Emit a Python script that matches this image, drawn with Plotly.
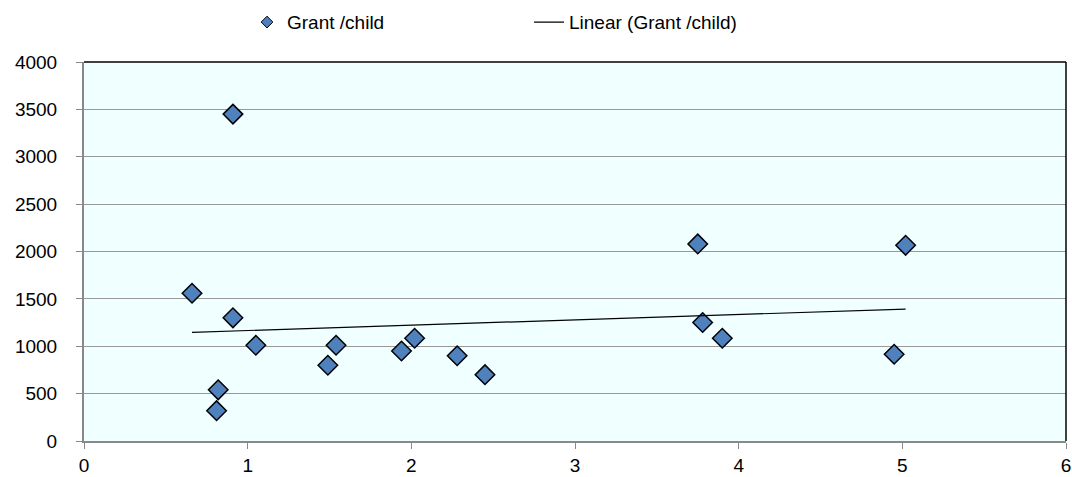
import numpy as np
import plotly.graph_objects as go

# Data
ratio = [0.66, 0.91, 0.91, 1.05, 0.82, 0.81, 1.54, 1.49, 1.94, 2.02, 2.28, 2.45,
         3.75, 3.78, 3.90, 5.02, 4.95]
grant = [1560, 3450, 1300, 1010, 540, 320, 1010, 800, 950, 1085, 900, 700,
         2080, 1250, 1085, 2065, 915]
x_ticks = [0, 1, 2, 3, 4, 5, 6]
y_ticks = [0, 500, 1000, 1500, 2000, 2500, 3000, 3500, 4000]

xa = np.array(ratio)
ya = np.array(grant)
slope, intercept = np.polyfit(xa, ya, 1)
tx = np.array([xa.min(), xa.max()])
ty = slope * tx + intercept

FONT = "Liberation Sans, Arial, sans-serif"
BLUE = "#4F81BD"

fig = go.Figure()
fig.add_trace(go.Scatter(
    x=ratio, y=grant, mode="markers", name="Grant /child", showlegend=False,
    legendgroup="g",
    marker=dict(symbol="diamond", size=15, color=BLUE,
                line=dict(color="#000000", width=1.5)),
))
# legend proxy with the smaller legend marker
fig.add_trace(go.Scatter(
    x=[None], y=[None], mode="markers", name="Grant /child", legendgroup="g",
    marker=dict(symbol="diamond", size=9, color=BLUE,
                line=dict(color="#000000", width=1)),
))
fig.add_trace(go.Scatter(
    x=tx, y=ty, mode="lines", name="Linear (Grant /child)",
    line=dict(color="#000000", width=1.2),
))

fig.update_layout(
    width=1072, height=477,
    margin=dict(l=84, r=6, t=62, b=36, autoexpand=False),
    paper_bgcolor="#FFFFFF",
    plot_bgcolor="#F0FFFF",
    font=dict(family=FONT, size=19, color="#000000"),
    showlegend=True,
    legend=dict(
        orientation="h", x=0.166, xanchor="left", y=1.105, yanchor="middle",
        font=dict(family=FONT, size=19), entrywidth=237, entrywidthmode="pixels",
        bgcolor="rgba(0,0,0,0)",
    ),
    xaxis=dict(
        range=[0, 6], tickvals=x_ticks, ticktext=[str(v) for v in x_ticks],
        showgrid=False, zeroline=False, automargin=False,
        showline=True, linecolor="#888888", linewidth=2,
        ticks="outside", ticklen=6, tickcolor="#888888", tickwidth=1,
        tickfont=dict(family=FONT, size=19), ticklabelstandoff=0,
    ),
    yaxis=dict(
        range=[0, 4000], tickvals=y_ticks, ticktext=[str(v) for v in y_ticks],
        showgrid=True, gridcolor="#999999", gridwidth=1, zeroline=False,
        automargin=False,
        showline=True, linecolor="#888888", linewidth=2,
        ticks="outside", ticklen=6, tickcolor="#888888", tickwidth=1,
        tickfont=dict(family=FONT, size=19), ticklabelstandoff=15,
    ),
    shapes=[
        dict(type="line", xref="paper", yref="paper", x0=0, x1=1, y0=1, y1=1,
             line=dict(color="#000000", width=1.5)),
        dict(type="line", xref="paper", yref="paper", x0=1, x1=1, y0=0, y1=1,
             line=dict(color="#000000", width=1.5)),
    ],
)

fig.write_html("out.html")
